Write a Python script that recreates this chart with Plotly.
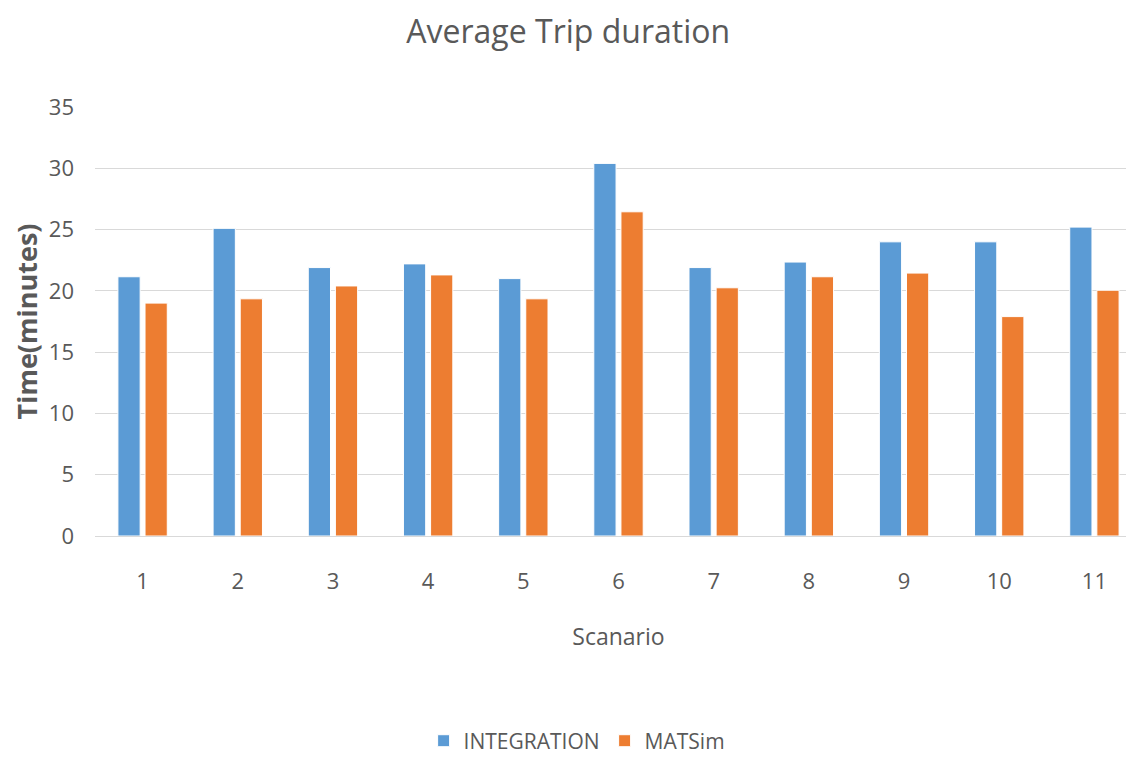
import plotly.graph_objects as go

scenarios = ["1", "2", "3", "4", "5", "6", "7", "8", "9", "10", "11"]
integration = [21.15, 25.1, 21.9, 22.2, 21.0, 30.4, 21.9, 22.35, 24.0, 24.0, 25.2]
matsim = [19.0, 19.35, 20.4, 21.3, 19.35, 26.45, 20.25, 21.15, 21.45, 17.9, 20.05]
y_ticks = [0, 5, 10, 15, 20, 25, 30, 35]

FONT = "Open Sans"
GRAY = "#595959"

fig = go.Figure()
fig.add_trace(go.Bar(name="INTEGRATION", x=scenarios, y=integration,
                     marker=dict(color="#5B9BD5", line=dict(color="white", width=1))))
fig.add_trace(go.Bar(name="MATSim", x=scenarios, y=matsim,
                     marker=dict(color="#ED7D31", line=dict(color="white", width=1))))

fig.update_layout(
    width=1134, height=759,
    paper_bgcolor="white", plot_bgcolor="white",
    margin=dict(l=87, r=0, t=99, b=231),
    barmode="group", bargap=0.43, bargroupgap=0.18,
    font=dict(family=FONT, color=GRAY),
    title=dict(text="Average Trip duration", x=0.494, xref="container", xanchor="center",
               y=0.969, yref="container", yanchor="middle",
               font=dict(family=FONT, size=32, color=GRAY)),
    xaxis=dict(type="category", showline=True, linecolor="#D9D9D9", linewidth=1,
               ticks="", tickfont=dict(size=22, color=GRAY), ticklabelstandoff=26,
               title=dict(text="Scanario", font=dict(size=23, color=GRAY), standoff=34)),
    yaxis=dict(range=[0, 35], tickvals=y_ticks, showgrid=True, gridcolor="#D9D9D9", gridwidth=1,
               zeroline=False, ticks="", tickfont=dict(size=22, color=GRAY), ticklabelstandoff=20,
               title=dict(text="<b>Time(minutes)</b>", font=dict(size=27, color=GRAY), standoff=9)),
    legend=dict(orientation="h", x=0.46, xanchor="center", y=-0.478, yanchor="middle",
                font=dict(size=21, color=GRAY), itemwidth=30, traceorder="normal"),
)

fig.write_html("out.html")
